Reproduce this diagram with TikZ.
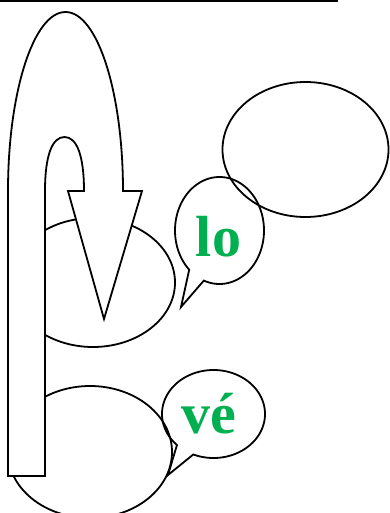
\documentclass[tikz,border=0pt]{standalone}
\usepackage{fontspec}
\newfontfamily\tnr{Liberation Serif}
\definecolor{lgreen}{HTML}{00B050}
\begin{document}
\begin{tikzpicture}[x=1pt,y=-1pt,line width=1.8pt,
  outline/.style={draw=black,line width=1.8pt},
  word/.style={font=\tnr\bfseries\fontsize{58}{58}\selectfont,text=lgreen,anchor=base,inner sep=0pt}]
\useasboundingbox (0,0) rectangle (389,513);
% top rule
\draw[outline] (0,1) -- (338,1);
% plain ellipses
\draw[outline] (305.5,149.5) ellipse [x radius=83, y radius=67.5];
\draw[outline] (93,282.5) ellipse [x radius=82, y radius=64.5];
\draw[outline] (90,452) ellipse [x radius=82, y radius=66];
% U-turn arrow
\draw[outline,fill=white,line join=miter]
  (8,476) -- (8,191)
  .. controls (8,92) and (33.7,12) .. (65.5,12)
  .. controls (97.3,12) and (123,92) .. (123,191)
  -- (142,191) -- (104,319) -- (68,191) -- (84,191)
  .. controls (84,156) and (77,137) .. (64.5,137)
  .. controls (52,137) and (45,156) .. (45,191)
  -- (45,476) -- cycle;
% speech bubbles
\draw[outline,line join=miter] plot[variable=\t,domain=132.9:470.6,samples=150]
  ({219.5+44.5*cos(\t)},{230.5+53.5*sin(\t)}) -- (181,307) -- cycle;
\draw[outline,line join=miter] plot[variable=\t,domain=135.2:473.1,samples=150]
  ({213.5+51.5*cos(\t)},{414+44*sin(\t)}) -- (168,475) -- cycle;
\node[word] (lo) at (218.5,256) {lo};
\node[word] (ve) at (208.5,433) {vé};
\end{tikzpicture}
\end{document}
